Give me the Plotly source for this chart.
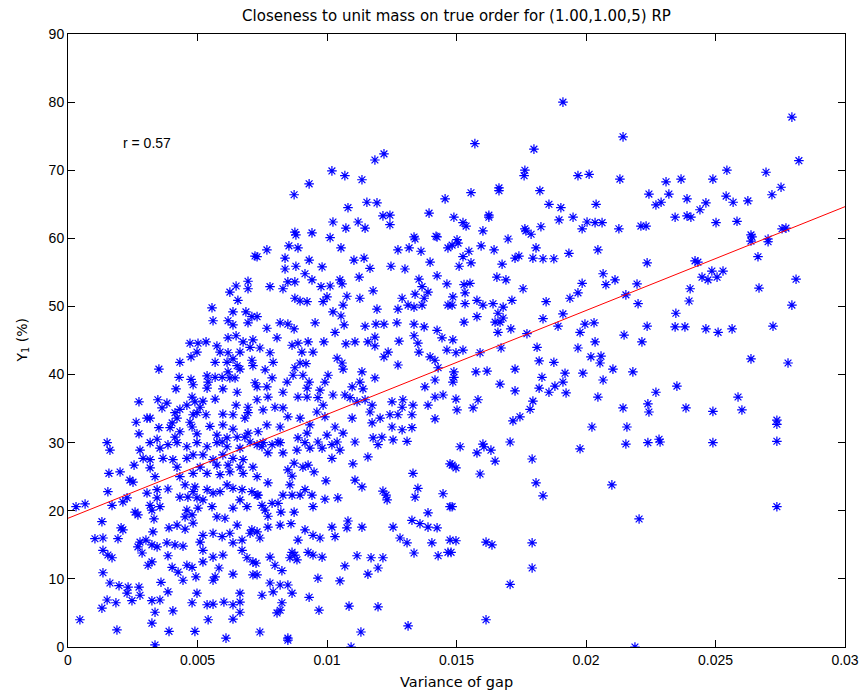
import numpy as np
import plotly.graph_objects as go

# (variance of gap, Y1 %) samples, grouped by area of the plane
upper_mid = [
    (0.01185, 71.5), (0.01220, 72.4), (0.01019, 69.9), (0.01069, 69.2), (0.01135, 68.6),
    (0.00931, 68.0), (0.00873, 66.4), (0.01081, 64.5), (0.01154, 65.3), (0.01193, 65.2),
    (0.01216, 63.3), (0.01243, 63.4), (0.01243, 62.0), (0.01023, 62.4), (0.01073, 61.5),
    (0.01120, 62.4), (0.01147, 61.5), (0.00876, 60.9), (0.00942, 60.8), (0.01012, 60.1),
    (0.01394, 63.7), (0.01456, 65.8), (0.01490, 63.1), (0.01336, 60.2), (0.01421, 60.3),
]

upper_right = [
    (0.01911, 80.0), (0.01571, 73.9), (0.01799, 73.1), (0.02143, 74.9), (0.01764, 70.0),
    (0.01761, 69.2), (0.01969, 69.2), (0.02012, 69.4), (0.02131, 68.7), (0.01556, 66.7),
    (0.01664, 67.4), (0.01664, 67.0), (0.01822, 67.0), (0.02243, 66.5), (0.01857, 65.0),
    (0.01903, 64.5), (0.02039, 65.0), (0.01525, 62.3), (0.01537, 61.8), (0.01625, 63.4),
    (0.01625, 63.1), (0.01602, 61.1), (0.01699, 59.9), (0.01764, 61.4), (0.01768, 61.1),
    (0.01788, 60.6), (0.01826, 61.7), (0.01896, 62.7), (0.01950, 63.1), (0.01985, 61.4),
    (0.02004, 62.4), (0.02035, 62.3), (0.02062, 62.3), (0.02127, 61.4), (0.02212, 61.8),
    (0.02232, 61.8), (0.01502, 59.8),
    (0.02795, 77.8), (0.02822, 71.4), (0.02695, 69.7), (0.02544, 70.0), (0.02490, 68.7),
    (0.02367, 68.7), (0.02309, 68.3), (0.02320, 66.5), (0.02290, 65.3), (0.02270, 64.9),
    (0.02390, 65.8), (0.02463, 65.2), (0.02440, 64.2), (0.02541, 66.2), (0.02568, 65.3),
    (0.02625, 65.5), (0.02718, 66.4), (0.02753, 67.5), (0.02344, 63.1), (0.02390, 63.3),
    (0.02405, 63.1), (0.02502, 62.3), (0.02583, 62.5), (0.02637, 60.5), (0.02757, 61.4),
    (0.02772, 61.5), (0.02703, 59.9),
]

far_right = [
    (0.02641, 60.2), (0.02637, 59.6), (0.02703, 59.5), (0.02664, 57.3), (0.02236, 56.4),
    (0.02421, 56.7), (0.02432, 56.5), (0.02486, 55.2), (0.02529, 55.2), (0.02448, 54.3),
    (0.02471, 53.9), (0.02506, 54.3), (0.02811, 54.0), (0.02668, 52.7), (0.02402, 52.6),
    (0.02398, 50.8), (0.02795, 50.2), (0.02347, 49.0), (0.02236, 47.1), (0.02344, 47.0),
    (0.02382, 47.0), (0.02463, 46.7), (0.02510, 46.2), (0.02564, 46.7), (0.02722, 47.1),
    (0.02637, 42.3), (0.02780, 41.7), (0.02270, 37.4), (0.02351, 38.3), (0.02239, 35.7),
    (0.02243, 34.5), (0.02386, 35.1), (0.02490, 34.6), (0.02587, 36.7), (0.02602, 34.8),
    (0.02737, 33.3), (0.02737, 32.7), (0.02282, 30.5), (0.02490, 30.0), (0.02737, 30.2),
    (0.02239, 30.0), (0.02286, 30.1), (0.02737, 20.6),
]

lower_right = [
    (0.01514, 29.4), (0.01579, 28.5), (0.01606, 29.4), (0.01633, 28.9), (0.01707, 30.1),
    (0.01649, 27.3), (0.01483, 26.7), (0.01498, 26.3), (0.01591, 25.4), (0.01792, 27.6),
    (0.01977, 29.1), (0.02154, 29.8), (0.01807, 24.1), (0.01834, 22.2), (0.02100, 23.8),
    (0.02205, 18.8), (0.01483, 20.6), (0.01498, 15.6), (0.01614, 15.4), (0.01637, 15.0),
    (0.01792, 15.3), (0.01479, 13.9), (0.01792, 11.6), (0.01707, 9.2), (0.01614, 4.0),
    (0.02189, 0.0), (0.01602, 29.8),
]

mid_right = [
    (0.01506, 59.3), (0.01595, 58.9), (0.01645, 58.3), (0.01548, 58.1), (0.01525, 57.3),
    (0.01510, 55.9), (0.01556, 56.4), (0.01676, 56.2), (0.01726, 57.1), (0.01741, 57.4),
    (0.01807, 58.6), (0.01795, 57.1), (0.01834, 57.0), (0.01876, 57.0), (0.01934, 57.8),
    (0.02046, 58.3), (0.01483, 59.0), (0.01656, 54.3), (0.01691, 53.9), (0.01529, 53.2),
    (0.01552, 53.4), (0.01533, 52.0), (0.01486, 51.4), (0.01757, 52.6), (0.01985, 53.4),
    (0.02066, 54.8), (0.02077, 53.2), (0.02112, 53.9), (0.02197, 53.3), (0.02154, 51.7),
    (0.01969, 52.0), (0.01938, 51.2), (0.01846, 50.7), (0.01714, 50.9), (0.01579, 50.9),
    (0.01533, 50.4), (0.01602, 50.2), (0.01641, 50.4), (0.01680, 49.9), (0.01660, 49.0),
    (0.02201, 50.4), (0.01483, 50.2), (0.01579, 48.5), (0.01529, 47.7), (0.01649, 47.7),
    (0.01680, 48.3), (0.01668, 47.7), (0.01710, 46.7), (0.01660, 46.2), (0.01834, 48.2),
    (0.01911, 48.9), (0.01892, 47.1), (0.01977, 46.2), (0.01996, 47.4), (0.02031, 47.6),
    (0.01772, 46.0), (0.02147, 45.8), (0.02035, 44.8), (0.02216, 44.8), (0.01486, 45.1),
    (0.01525, 43.6), (0.01591, 43.2), (0.01672, 43.9), (0.01498, 43.2), (0.01811, 44.0),
    (0.01969, 43.9), (0.02019, 42.6), (0.02058, 42.7), (0.02054, 41.7), (0.01819, 42.0),
    (0.01876, 41.8), (0.01726, 40.8), (0.01575, 40.4), (0.01618, 40.5), (0.01490, 40.4),
    (0.01490, 39.6), (0.02104, 40.8), (0.02181, 40.4), (0.01988, 40.2), (0.01919, 40.2),
    (0.01830, 39.6), (0.01911, 38.9), (0.01880, 38.3), (0.01857, 37.4), (0.01819, 38.0),
    (0.01923, 37.3), (0.01668, 38.6), (0.01726, 37.6), (0.02066, 39.2), (0.02046, 36.7),
    (0.01498, 36.4), (0.01583, 36.3), (0.01564, 35.1), (0.01502, 34.8), (0.01795, 36.1),
    (0.01784, 34.9), (0.01745, 33.8), (0.01718, 33.2), (0.02023, 32.3), (0.02143, 35.1),
    (0.02158, 32.3),
]

centre = [
    (0.00880, 60.5), (0.01054, 58.6), (0.00768, 58.3), (0.00853, 58.9), (0.00888, 58.6),
    (0.00730, 57.3), (0.00838, 57.1), (0.00838, 55.5), (0.00880, 55.9), (0.00931, 56.8),
    (0.00981, 55.8), (0.01104, 56.8), (0.01143, 57.1), (0.01166, 55.6), (0.01124, 54.3),
    (0.01247, 55.9), (0.01301, 55.5), (0.01274, 58.3), (0.01317, 58.6), (0.01340, 59.9),
    (0.01425, 60.2), (0.01363, 58.1), (0.01398, 56.5), (0.01467, 58.6), (0.01425, 54.5),
    (0.01463, 53.3), (0.01355, 54.0), (0.00780, 52.9), (0.00830, 52.6), (0.00849, 53.6),
    (0.00876, 53.6), (0.00915, 54.8), (0.00942, 53.9), (0.00977, 52.9), (0.01012, 53.0),
    (0.01050, 53.9), (0.01058, 53.3), (0.01178, 52.3), (0.01367, 52.9), (0.01390, 52.1),
    (0.01375, 51.2), (0.01340, 51.8), (0.01290, 51.2), (0.01313, 50.2), (0.01336, 49.9),
    (0.01367, 50.2), (0.01274, 49.6), (0.01193, 49.6), (0.01127, 51.2), (0.01077, 51.5),
    (0.01062, 50.2), (0.01000, 51.4), (0.00985, 50.7), (0.00923, 50.7), (0.00876, 51.2),
    (0.00896, 50.8), (0.01467, 50.2), (0.00730, 48.5), (0.01023, 49.2), (0.01054, 48.6),
    (0.01066, 47.3), (0.01031, 46.2), (0.00954, 47.6), (0.00819, 47.6), (0.00849, 47.4),
    (0.00873, 46.7), (0.00768, 46.8), (0.00807, 45.4), (0.00741, 43.9), (0.00865, 44.3),
    (0.00888, 44.6), (0.00927, 44.8), (0.00988, 44.8), (0.01073, 44.5), (0.01108, 44.8),
    (0.01158, 44.8), (0.01185, 44.2), (0.01185, 45.5), (0.01147, 47.1), (0.01189, 47.4),
    (0.01220, 47.4), (0.01270, 47.6), (0.01336, 47.4), (0.01375, 47.0), (0.01336, 45.7),
    (0.01351, 44.6), (0.01355, 43.3), (0.01278, 44.9), (0.01425, 46.5), (0.01444, 45.4),
    (0.01463, 43.6), (0.01398, 42.6), (0.01417, 42.1), (0.01429, 41.0), (0.01236, 43.3),
    (0.01220, 42.6), (0.01274, 41.4), (0.01185, 39.5), (0.01135, 40.4), (0.01127, 38.9),
    (0.01139, 37.9), (0.01097, 38.2), (0.01069, 37.0), (0.01039, 42.4), (0.01058, 41.7),
    (0.01062, 40.8), (0.01004, 39.9), (0.00992, 38.9), (0.00973, 37.7), (0.00965, 36.6),
    (0.00931, 38.9), (0.00923, 38.0), (0.00907, 39.9), (0.00896, 41.7), (0.00903, 43.3),
    (0.00919, 41.6), (0.00946, 43.3), (0.00876, 41.0), (0.00869, 39.9), (0.00846, 38.9),
    (0.00780, 43.2), (0.00792, 41.8), (0.00761, 40.7), (0.00788, 39.5), (0.00730, 38.2),
    (0.00768, 38.2), (0.00772, 36.7), (0.00830, 37.4), (0.00888, 36.7), (0.00923, 36.7),
    (0.00985, 35.5), (0.01023, 37.0), (0.01089, 36.6), (0.01116, 36.0), (0.01147, 36.3),
    (0.01174, 35.5), (0.01251, 36.0), (0.01293, 36.3), (0.01290, 35.2), (0.01332, 35.5),
    (0.01378, 38.2), (0.01390, 35.5), (0.01417, 36.7), (0.01448, 37.0), (0.01486, 38.9),
    (0.01417, 39.2), (0.00799, 35.2), (0.00830, 35.1), (0.00753, 34.8), (0.00849, 33.8),
    (0.00819, 32.3), (0.00768, 32.6), (0.00896, 33.6), (0.00934, 32.6), (0.00961, 34.5),
    (0.00992, 33.8), (0.01031, 32.3), (0.01000, 31.1), (0.01062, 31.4), (0.01097, 33.6),
    (0.01166, 34.5), (0.01174, 32.9), (0.01205, 33.6), (0.01243, 34.1), (0.01274, 34.1),
    (0.01328, 34.1), (0.01251, 32.3), (0.01212, 30.8), (0.01290, 31.9), (0.01328, 32.2),
    (0.01417, 33.5), (0.00923, 31.4), (0.00888, 30.7), (0.00811, 30.1), (0.00753, 30.0),
    (0.00965, 30.1), (0.01039, 30.1), (0.01108, 30.1), (0.01178, 30.7), (0.01255, 30.4),
    (0.01309, 30.2),
]

upper_left = [
    (0.00722, 57.4), (0.00695, 53.7), (0.00695, 52.6), (0.00649, 53.0), (0.00625, 52.1),
    (0.00656, 50.9), (0.00556, 49.8), (0.00560, 47.9), (0.00637, 49.2), (0.00618, 47.9),
    (0.00637, 47.3), (0.00687, 49.2), (0.00710, 48.5), (0.00695, 47.6), (0.00618, 45.4),
    (0.00649, 45.7), (0.00676, 44.8), (0.00714, 45.1), (0.00703, 44.0), (0.00664, 43.3),
    (0.00471, 44.6), (0.00502, 44.6), (0.00533, 44.8), (0.00575, 44.2), (0.00587, 43.3),
    (0.00498, 43.3), (0.00475, 42.6), (0.00432, 41.8), (0.00568, 41.8), (0.00618, 43.2),
    (0.00637, 42.3), (0.00614, 41.8), (0.00653, 41.3), (0.00664, 40.8), (0.00710, 42.1),
    (0.00714, 41.3), (0.00351, 40.8), (0.00429, 39.6), (0.00475, 39.3), (0.00483, 38.5),
    (0.00537, 39.8), (0.00541, 38.9), (0.00568, 39.6), (0.00595, 39.6), (0.00618, 40.4),
    (0.00625, 39.5), (0.00645, 39.5), (0.00722, 38.8), (0.00537, 38.0), (0.00417, 37.9),
    (0.00598, 37.9), (0.00653, 37.4), (0.00568, 36.4), (0.00479, 36.7), (0.00459, 35.5),
    (0.00432, 34.9), (0.00490, 36.0), (0.00521, 36.1), (0.00510, 35.2), (0.00533, 34.1),
    (0.00498, 34.4), (0.00483, 34.1), (0.00649, 35.5), (0.00695, 35.2), (0.00730, 36.3),
    (0.00637, 34.1), (0.00683, 33.6), (0.00695, 34.4), (0.00598, 34.2), (0.00274, 36.0),
    (0.00347, 36.3), (0.00382, 35.8), (0.00363, 35.1), (0.00305, 33.6), (0.00317, 33.6),
    (0.00263, 33.0), (0.00274, 31.3), (0.00351, 32.2), (0.00402, 32.9), (0.00421, 33.6),
    (0.00413, 34.4), (0.00394, 32.2), (0.00432, 31.6), (0.00413, 30.8), (0.00471, 33.0),
    (0.00479, 32.3), (0.00498, 31.3), (0.00548, 32.4), (0.00575, 31.1), (0.00598, 32.6),
    (0.00637, 32.0), (0.00653, 30.8), (0.00683, 30.8), (0.00695, 31.4), (0.00734, 31.6),
    (0.00614, 30.7), (0.00151, 30.0), (0.00344, 30.5), (0.00317, 30.0), (0.00421, 30.0),
    (0.00498, 30.0), (0.00595, 30.1), (0.00703, 30.1),
]

lower_left = [
    (0.00162, 28.9), (0.00278, 28.9), (0.00355, 29.2), (0.00386, 29.7), (0.00459, 29.4),
    (0.00537, 29.4), (0.00575, 30.0), (0.00614, 29.4), (0.00664, 29.2), (0.00730, 29.7),
    (0.00290, 27.7), (0.00317, 27.5), (0.00367, 27.7), (0.00405, 27.5), (0.00459, 27.7),
    (0.00483, 28.2), (0.00521, 28.2), (0.00560, 27.5), (0.00598, 28.2), (0.00637, 27.7),
    (0.00676, 27.5), (0.00255, 26.7), (0.00317, 26.3), (0.00421, 26.4), (0.00510, 26.4),
    (0.00575, 26.7), (0.00618, 26.7), (0.00664, 26.4), (0.00158, 25.5), (0.00201, 25.7),
    (0.00239, 24.5), (0.00251, 24.2), (0.00336, 25.0), (0.00432, 25.0), (0.00483, 25.5),
    (0.00537, 25.5), (0.00587, 25.3), (0.00625, 25.7), (0.00676, 25.5), (0.00714, 26.4),
    (0.00154, 22.8), (0.00228, 21.9), (0.00212, 21.3), (0.00170, 20.8), (0.00305, 22.6),
    (0.00344, 23.1), (0.00344, 21.9), (0.00317, 20.8), (0.00324, 20.1), (0.00355, 20.6),
    (0.00386, 23.2), (0.00452, 23.8), (0.00490, 23.5), (0.00483, 22.8), (0.00463, 22.0),
    (0.00432, 22.0), (0.00537, 23.1), (0.00560, 22.6), (0.00587, 22.8), (0.00614, 23.8),
    (0.00637, 23.3), (0.00672, 23.1), (0.00710, 22.8), (0.00730, 22.3), (0.00498, 21.9),
    (0.00521, 21.6), (0.00556, 20.6), (0.00502, 20.4), (0.00459, 20.1), (0.00452, 19.1),
    (0.00479, 19.4), (0.00575, 19.1), (0.00606, 18.9), (0.00637, 20.4), (0.00664, 21.6),
    (0.00691, 20.6), (0.00259, 19.8), (0.00270, 19.4), (0.00031, 20.6), (0.00066, 21.0),
    (0.00131, 18.4), (0.00205, 17.5), (0.00212, 17.2), (0.00332, 18.8), (0.00390, 17.5),
    (0.00421, 17.9), (0.00452, 17.3), (0.00483, 18.2), (0.00521, 16.4), (0.00560, 16.7),
    (0.00595, 16.2), (0.00625, 16.7), (0.00653, 17.9), (0.00710, 17.2), (0.00703, 16.7),
    (0.00672, 15.7), (0.00104, 15.9), (0.00135, 16.0), (0.00193, 15.9), (0.00278, 15.4),
    (0.00270, 14.7), (0.00301, 15.7), (0.00328, 16.9), (0.00324, 15.0), (0.00344, 14.7),
    (0.00382, 15.3), (0.00413, 15.0), (0.00444, 14.8), (0.00510, 15.4), (0.00521, 14.2),
    (0.00560, 13.2), (0.00598, 13.5), (0.00637, 15.3), (0.00672, 14.2), (0.00691, 13.1),
    (0.00714, 12.5), (0.00135, 14.2), (0.00154, 13.5), (0.00170, 13.1), (0.00286, 13.8),
    (0.00324, 12.5), (0.00309, 12.0), (0.00386, 13.4), (0.00402, 11.7), (0.00425, 11.0),
    (0.00444, 9.8), (0.00459, 12.0), (0.00479, 11.7), (0.00494, 10.3), (0.00521, 12.5),
    (0.00560, 9.8), (0.00568, 10.3), (0.00583, 11.6), (0.00637, 10.7), (0.00714, 10.6),
    (0.00135, 10.9), (0.00162, 9.4), (0.00197, 9.0), (0.00232, 8.8), (0.00274, 8.8),
    (0.00228, 7.9), (0.00247, 6.8), (0.00278, 7.6), (0.00151, 6.9), (0.00185, 6.5),
    (0.00131, 5.7), (0.00324, 6.8), (0.00355, 6.9), (0.00386, 8.1), (0.00359, 9.5),
    (0.00336, 5.1), (0.00405, 5.3), (0.00479, 6.5), (0.00498, 7.9), (0.00537, 6.2),
    (0.00560, 6.3), (0.00602, 6.6), (0.00637, 6.2), (0.00664, 7.9), (0.00664, 6.6),
    (0.00664, 5.1), (0.00637, 4.1), (0.00541, 4.0), (0.00046, 4.0), (0.00324, 3.5),
    (0.00189, 2.5), (0.00390, 2.3), (0.00490, 2.3), (0.00610, 1.3), (0.00336, 0.3),
]

lower_mid = [
    (0.00749, 29.4), (0.00788, 29.7), (0.00819, 30.0), (0.00830, 28.5), (0.00772, 28.5),
    (0.00884, 28.9), (0.00915, 30.0), (0.00934, 29.2), (0.00981, 29.2), (0.01019, 29.7),
    (0.01050, 28.9), (0.01019, 27.7), (0.01197, 29.7), (0.01158, 27.9), (0.01100, 26.9),
    (0.00873, 27.0), (0.00849, 26.0), (0.00907, 26.4), (0.00927, 26.7), (0.00950, 25.7),
    (0.00865, 25.1), (0.00730, 25.0), (0.00772, 24.1), (0.00857, 23.8), (0.00996, 24.4),
    (0.01108, 24.5), (0.01135, 23.5), (0.01216, 22.9), (0.01232, 21.6), (0.01228, 22.3),
    (0.01332, 25.5), (0.01351, 23.3), (0.01340, 22.0), (0.01448, 22.5), (0.01475, 26.9),
    (0.01475, 20.6), (0.00734, 22.3), (0.00749, 20.8), (0.00761, 20.1), (0.00788, 21.1),
    (0.00811, 21.1), (0.00830, 22.3), (0.00865, 22.3), (0.00896, 22.3), (0.00915, 23.1),
    (0.00942, 22.3), (0.00992, 21.7), (0.01042, 21.9), (0.00946, 20.6), (0.00873, 19.8),
    (0.00822, 19.8), (0.00772, 19.2), (0.00772, 17.6), (0.00819, 17.9), (0.00861, 18.1),
    (0.00730, 16.9), (0.00741, 16.0), (0.00915, 17.2), (0.00946, 16.4), (0.00973, 16.0),
    (0.00888, 15.7), (0.01019, 17.6), (0.01031, 16.2), (0.01077, 17.5), (0.01081, 18.5),
    (0.01135, 17.6), (0.01255, 17.6), (0.01328, 18.6), (0.01359, 18.1), (0.01390, 17.6),
    (0.01425, 17.5), (0.01390, 19.7), (0.01475, 15.7), (0.01282, 16.0), (0.01309, 15.3),
    (0.01336, 13.8), (0.01405, 15.3), (0.01429, 13.4), (0.01467, 13.9), (0.00865, 13.9),
    (0.00876, 13.5), (0.00884, 12.8), (0.00857, 13.1), (0.00927, 13.9), (0.00946, 13.5),
    (0.00981, 13.2), (0.00780, 13.2), (0.00799, 12.0), (0.00826, 11.2), (0.00726, 12.3),
    (0.00730, 10.6), (0.01116, 13.4), (0.01170, 13.1), (0.01216, 13.1), (0.01197, 11.6),
    (0.01069, 11.9), (0.01158, 10.7), (0.00965, 10.1), (0.01050, 9.7), (0.00780, 9.4),
    (0.00819, 9.1), (0.00849, 9.1), (0.00792, 8.1), (0.00865, 7.9), (0.00749, 7.6),
    (0.00931, 7.3), (0.00826, 6.5), (0.00819, 5.4), (0.00807, 5.0), (0.00969, 5.4),
    (0.01085, 6.0), (0.01197, 5.9), (0.01313, 3.1), (0.01131, 2.2), (0.00741, 2.2),
    (0.00849, 1.3), (0.00849, 1.0), (0.01093, 0.0),
]

# least-squares line and correlation shown on the chart
fit_intercept = 18.9
fit_slope = 1525.0
r_value = 0.57

x_ticks = [0, 0.005, 0.01, 0.015, 0.02, 0.025, 0.03]
x_tick_text = ["0", "0.005", "0.01", "0.015", "0.02", "0.025", "0.03"]
y_ticks = [0, 10, 20, 30, 40, 50, 60, 70, 80, 90]

samples = (upper_mid + upper_right + far_right + lower_right + mid_right
           + centre + upper_left + lower_left + lower_mid)
gap_var = [p[0] for p in samples]
y1_pct = [p[1] for p in samples]

fit_x = np.array([0.0, 0.03])
fit_y = fit_intercept + fit_slope * fit_x

fig = go.Figure()
fig.add_trace(go.Scatter(
    x=gap_var, y=y1_pct, mode="markers",
    marker=dict(symbol="asterisk-open", size=8, color="#0000ff",
                line=dict(color="#0000ff", width=1.2)),
    hoverinfo="x+y", showlegend=False,
))
fig.add_trace(go.Scatter(
    x=fit_x, y=fit_y, mode="lines",
    line=dict(color="#ff0000", width=1), showlegend=False,
))

num_font = "Liberation Sans, Arial, Helvetica, sans-serif"
text_font = "DejaVu Sans, Verdana, sans-serif"
axis_style = dict(
    showline=True, linecolor="black", linewidth=1, mirror="ticks",
    ticks="inside", ticklen=7, tickcolor="black", tickwidth=1,
    showgrid=False, zeroline=False, automargin=False,
    tickfont=dict(family=num_font, size=14, color="black"),
)

fig.update_layout(
    width=865, height=698,
    margin=dict(l=68, r=20, t=34, b=51, autoexpand=False),
    paper_bgcolor="white", plot_bgcolor="white",
    font=dict(family=num_font, size=14, color="black"),
    showlegend=False,
    title=dict(text="Closeness to unit mass on true order for (1.00,1.00,5) RP",
               x=0.5, xref="paper", y=1 - 16 / 698, yref="container",
               xanchor="center", yanchor="middle",
               font=dict(family=text_font, size=15, color="black")),
    xaxis=dict(range=[0, 0.03], tickvals=x_ticks, ticktext=x_tick_text, **axis_style),
    yaxis=dict(range=[0, 90], tickvals=y_ticks, **axis_style),
    annotations=[
        dict(text="Variance of gap", x=0.5, xref="paper", y=0, yref="paper",
             yshift=-35, xanchor="center", yanchor="middle", showarrow=False,
             font=dict(family=text_font, size=14.5)),
        dict(text="Y<sub>1</sub> (%)", x=0, xref="paper", y=0.5, yref="paper",
             xshift=-46, xanchor="center", yanchor="middle", textangle=-90,
             showarrow=False, font=dict(family=text_font, size=14)),
        dict(text=f"r = {r_value:.2f}", x=0.00205, xref="x", y=74, yref="y",
             xanchor="left", yanchor="middle", showarrow=False,
             font=dict(family=num_font, size=14)),
    ],
)

fig.write_html("out.html")
